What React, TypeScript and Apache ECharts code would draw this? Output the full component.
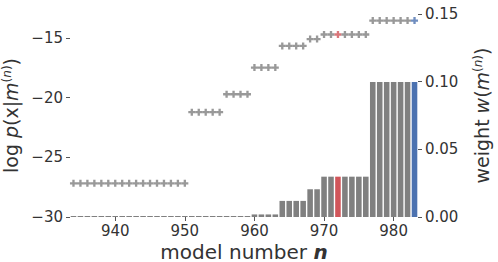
import React, { useEffect, useRef } from "react";
import * as echarts from "echarts";

const models: string[] = [];
for (let n = 934; n <= 983; n++) models.push(String(n));

const logLik: number[] = [
  // 934-950
  -27.18, -27.18, -27.18, -27.18, -27.18, -27.18, -27.18, -27.18, -27.18, -27.18,
  -27.18, -27.18, -27.18, -27.18, -27.18, -27.18, -27.18,
  // 951-955
  -21.22, -21.22, -21.22, -21.22, -21.22,
  // 956-959
  -19.72, -19.72, -19.72, -19.72,
  // 960-963
  -17.49, -17.49, -17.49, -17.49,
  // 964-967
  -15.67, -15.67, -15.67, -15.67,
  // 968-969
  -15.1, -15.1,
  // 970-976
  -14.72, -14.72, -14.72, -14.72, -14.72, -14.72, -14.72,
  // 977-983
  -13.55, -13.55, -13.55, -13.55, -13.55, -13.55, -13.55,
];

const weights: number[] = [
  0.00001, 0.00001, 0.00001, 0.00001, 0.00001, 0.00001, 0.00001, 0.00001, 0.00001, 0.00001,
  0.00001, 0.00001, 0.00001, 0.00001, 0.00001, 0.00001, 0.00001,
  0.00005, 0.00005, 0.00005, 0.00005, 0.00005,
  0.0002, 0.0002, 0.0002, 0.0002,
  0.0019, 0.0019, 0.0019, 0.0019,
  0.0119, 0.0119, 0.0119, 0.0119,
  0.0205, 0.0205,
  0.0298, 0.0298, 0.0298, 0.0298, 0.0298, 0.0298, 0.0298,
  0.0998, 0.0998, 0.0998, 0.0998, 0.0998, 0.0998, 0.0998,
];

const leftTicks = [-30, -25, -20, -15];
const highlightRed = "972";
const highlightBlue = "983";

const GRAY = "#808080";
const RED = "#d1555a";
const BLUE = "#4c72b0";
const FONT = "DejaVu Sans";
const PLUS = "path://M2,0H4V2H6V4H4V6H2V4H0V2H2Z";

function colorFor(m: string) {
  if (m === highlightRed) return RED;
  if (m === highlightBlue) return BLUE;
  return GRAY;
}

export default function App() {
  const ref = useRef<HTMLDivElement>(null);
  useEffect(() => {
    if (!ref.current) return;
    document.body.style.margin = "0";
    const chart = echarts.init(ref.current, null, { renderer: "svg" });
    const tickLine = { color: "#555", width: 1 };
    const labelStyle = { fontFamily: FONT, fontSize: 15, color: "#333" };
    const nameRich = {
      a: { fontFamily: FONT, fontSize: 19, color: "#333" },
      i: { fontFamily: FONT, fontSize: 19, color: "#333", fontStyle: "italic" },
      s: { fontFamily: FONT, fontSize: 12, color: "#333", verticalAlign: "top", padding: [0, 0, 8, 0] },
      si: { fontFamily: FONT, fontSize: 12, color: "#333", fontStyle: "italic", verticalAlign: "top", padding: [0, 0, 8, 0] },
    };
    chart.setOption({
      animation: false,
      textStyle: { fontFamily: FONT },
      grid: { left: 70, right: 80, top: 14, bottom: 45, containLabel: false, outerBoundsMode: "none" },
      xAxis: {
        type: "category",
        data: models,
        axisLine: { show: false },
        axisTick: {
          show: true,
          alignWithLabel: true,
          length: 4,
          lineStyle: tickLine,
          interval: (i: number, v: string) => Number(v) % 10 === 0,
        },
        axisLabel: {
          ...labelStyle,
          margin: 6,
          lineHeight: 15,
          interval: (i: number, v: string) => Number(v) % 10 === 0,
        },
        name: "{a|model number }{b|n}",
        nameLocation: "middle",
        nameGap: 25,
        nameMoveOverlap: false,
        nameTextStyle: {
          rich: {
            a: { fontFamily: FONT, fontSize: 20, lineHeight: 20, color: "#333" },
            b: { fontFamily: FONT, fontSize: 20, lineHeight: 20, color: "#333", fontStyle: "italic", fontWeight: "bold" },
          },
        },
      },
      yAxis: [
        {
          type: "value",
          min: -30,
          max: -13,
          axisLine: { show: false },
          splitLine: { show: false },
          axisTick: { show: true, length: 4, lineStyle: tickLine, customValues: leftTicks },
          axisLabel: {
            ...labelStyle,
            margin: 7,
            customValues: leftTicks,
            formatter: (v: number) => (v < 0 ? "\u2212" + Math.abs(v) : String(v)),
          },
          name: "{a|log }{i|p}{a|(x|}{i|m}{s|(}{si|n}{s|)}{a|)}",
          nameLocation: "middle",
          nameRotate: 90,
          nameGap: 42,
          nameTextStyle: { rich: nameRich },
        },
        {
          type: "value",
          min: 0,
          max: 0.15,
          interval: 0.05,
          position: "right",
          axisLine: { show: false },
          splitLine: { show: false },
          axisTick: { show: true, length: 4, lineStyle: tickLine },
          axisLabel: { ...labelStyle, margin: 7, formatter: (v: number) => v.toFixed(2) },
          name: "{a|weight }{i|w}{a|(}{i|m}{s|(}{si|n}{s|)}{a|)}",
          nameLocation: "middle",
          nameRotate: 90,
          nameGap: 54,
          nameTextStyle: { rich: nameRich },
        },
      ],
      series: [
        {
          type: "bar",
          yAxisIndex: 1,
          barCategoryGap: "20%",
          barMinHeight: 1,
          data: weights.map((w, i) => ({ value: w, itemStyle: { color: colorFor(models[i]) } })),
        },
        {
          type: "scatter",
          yAxisIndex: 0,
          symbol: PLUS,
          symbolSize: 7,
          data: logLik.map((v, i) => ({ value: v, itemStyle: { color: colorFor(models[i]) } })),
          z: 3,
        },
      ],
    });
    return () => chart.dispose();
  }, []);
  return <div ref={ref} style={{ width: 498, height: 262 }} />;
}
